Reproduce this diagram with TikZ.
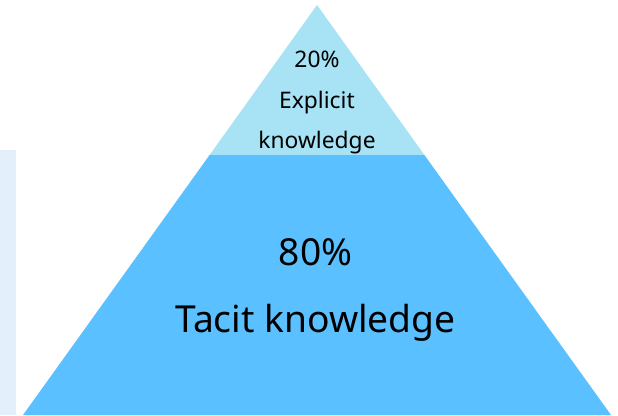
\documentclass[tikz,border=0pt]{standalone}
\usepackage{fontspec}
\setmainfont{Noto Sans}
\definecolor{toplight}{RGB}{167,227,244}
\definecolor{basedark}{RGB}{91,192,255}
\definecolor{sidepanel}{RGB}{228,239,252}
\tikzset{
  small label/.style={anchor=base, inner sep=0pt, font=\fontsize{22.8}{27}\selectfont, text=black},
  big label/.style={anchor=base, inner sep=0pt, font=\fontsize{37.2}{44}\selectfont, text=black}
}
\begin{document}
\begin{tikzpicture}[x=1pt,y=-1pt]
\useasboundingbox (0,0) rectangle (618,415);
\fill[white] (0,0) rectangle (618,415);
% side panel
\fill[sidepanel] (0,150) rectangle (16,415);
% pyramid
\coordinate (apex) at (317,5);
\coordinate (ml) at (209.6,155);
\coordinate (mr) at (424.4,155);
\coordinate (bl) at (23,415);
\coordinate (br) at (611,415);
\fill[toplight] (apex) -- (mr) -- (ml) -- cycle;
\fill[basedark] (ml) -- (mr) -- (br) -- (bl) -- cycle;
% labels
\node[small label] (p20) at (317,67) {20\%};
\node[small label] (expl) at (317,108) {Explicit};
\node[small label] (know) at (317,148) {knowledge};
\node[big label] (p80) at (315.5,265) {80\%};
\node[big label] (tacit) at (315.5,332) {Tacit knowledge};
\end{tikzpicture}
\end{document}
